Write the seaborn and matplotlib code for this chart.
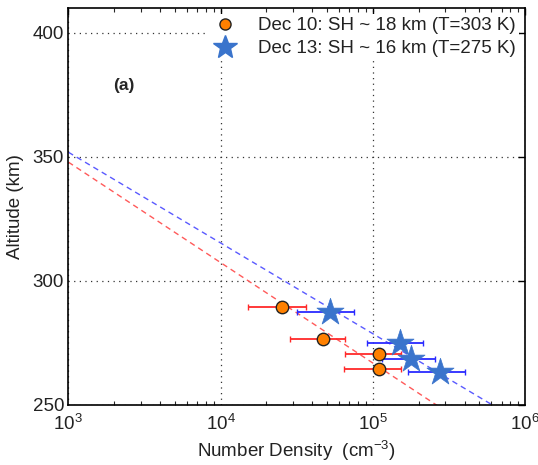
import numpy as np
import pandas as pd
import matplotlib
matplotlib.use("Agg")
import matplotlib.pyplot as plt
import seaborn as sns
from matplotlib.ticker import LogLocator, LogFormatterSciNotation, NullFormatter
from matplotlib.lines import Line2D

# Dec 10 measurements (orange circles)
dec10_density = [2.52e4, 4.74e4, 1.09e5, 1.09e5]
dec10_alt = [289.5, 276.6, 270.2, 264.5]
dec10_lo = [1.52e4, 2.86e4, 6.58e4, 6.48e4]
dec10_hi = [3.65e4, 6.60e4, 1.53e5, 1.53e5]

# Dec 13 measurements (blue stars)
dec13_density = [5.24e4, 1.51e5, 1.79e5, 2.77e5]
dec13_alt = [287.3, 275.0, 268.4, 263.3]
dec13_lo = [3.20e4, 9.20e4, 1.15e5, 1.69e5]
dec13_hi = [7.57e4, 2.13e5, 2.56e5, 4.04e5]

# Scale-height fits: altitude at n = 1e3 cm^-3 and scale height (km)
fit_n_ref = 1e3
dec10_fit_z0, dec10_H = 347.8, 17.6
dec13_fit_z0, dec13_H = 351.8, 15.9

legend_labels = ["Dec 10: SH ~ 18 km (T=303 K)", "Dec 13: SH ~ 16 km (T=275 K)"]

sns.set_theme(style="white")
plt.rcParams["font.family"] = ["Liberation Sans", "DejaVu Sans"]
plt.rcParams["mathtext.default"] = "regular"
plt.rcParams["xtick.direction"] = "in"
plt.rcParams["ytick.direction"] = "in"

fig = plt.figure(figsize=(5.38, 4.65), dpi=100)
ax = fig.add_axes([0.127, 0.130, 0.849, 0.853])
ax.set_xscale("log")

# fitted profiles
def fit_profile(z0, H):
    n = np.logspace(3, 6, 200)
    z = z0 - H * np.log(n / fit_n_ref)
    return pd.DataFrame({"n": n, "z": z})

f10 = fit_profile(dec10_fit_z0, dec10_H)
f13 = fit_profile(dec13_fit_z0, dec13_H)
sns.lineplot(data=f10, x="n", y="z", ax=ax, color="#ff5a5a", lw=1.0,
             sort=False, estimator=None)
sns.lineplot(data=f13, x="n", y="z", ax=ax, color="#5a5aff", lw=1.0,
             sort=False, estimator=None)
for ln in ax.lines:
    ln.set_dashes([4, 3])

# error bars
d10 = np.array(dec10_density)
d13 = np.array(dec13_density)
ax.errorbar(d10, dec10_alt,
            xerr=[d10 - np.array(dec10_lo), np.array(dec10_hi) - d10],
            fmt="none", ecolor="#ff2a2a", elinewidth=1.3, capsize=2.5, capthick=1.0, zorder=3)
ax.errorbar(d13, dec13_alt,
            xerr=[d13 - np.array(dec13_lo), np.array(dec13_hi) - d13],
            fmt="none", ecolor="#2a2aff", elinewidth=1.3, capsize=2.5, capthick=1.0, zorder=3)

# markers
df10 = pd.DataFrame({"n": dec10_density, "z": dec10_alt})
df13 = pd.DataFrame({"n": dec13_density, "z": dec13_alt})
sns.scatterplot(data=df10, x="n", y="z", ax=ax, marker="o", s=80,
                color="#ff8000", edgecolor="#222222", linewidth=1.0, zorder=4)
sns.scatterplot(data=df13, x="n", y="z", ax=ax, marker="*", s=420,
                color="#3a74cc", edgecolor="#3a74cc", linewidth=0.5, zorder=5)

ax.set_xlim(1e3, 1e6)
ax.set_ylim(250, 410)
ax.set_yticks([250, 300, 350, 400])
ax.xaxis.set_major_locator(LogLocator(base=10, numticks=10))
ax.xaxis.set_major_formatter(LogFormatterSciNotation())
ax.xaxis.set_minor_locator(LogLocator(base=10, subs=np.arange(2, 10), numticks=20))
ax.xaxis.set_minor_formatter(NullFormatter())

ax.grid(True, which="major", linestyle=(0, (1, 3.5)), color="#333333", lw=0.9)
ax.tick_params(axis="both", which="major", labelsize=13.5, length=5, width=1,
               top=True, right=True, colors="black", labelcolor="#222222")
ax.tick_params(axis="x", which="major", pad=7)
ax.tick_params(axis="y", which="major", pad=3)
ax.tick_params(axis="x", which="minor", length=3, width=0.8, top=True, bottom=True)
for s in ax.spines.values():
    s.set_color("black")
    s.set_linewidth(1.2)

ax.set_xlabel("Number Density  (cm$^{-3}$)", fontsize=13.5, labelpad=3,
              color="#222222")
ax.set_ylabel("Altitude (km)", fontsize=13.5, labelpad=6, color="#222222")

ax.text(0.098, 0.805, "(a)", transform=ax.transAxes, fontsize=12.5,
        fontweight="bold", ha="left", va="center")

handles = [
    Line2D([], [], marker="o", ls="none", markersize=8, markerfacecolor="#ff8000",
           markeredgecolor="#222222", markeredgewidth=1.0),
    Line2D([], [], marker="*", ls="none", markersize=18, markerfacecolor="#3a74cc",
           markeredgecolor="#3a74cc"),
]
leg = ax.legend(handles, legend_labels, loc="upper right", bbox_to_anchor=(1.0, 1.0),
                frameon=True, fontsize=13.5, handletextpad=1.0, labelspacing=0.3,
                borderpad=0.2, borderaxespad=0.3, handlelength=1.5)
leg.get_frame().set_facecolor("white")
leg.get_frame().set_edgecolor("none")
leg.get_frame().set_alpha(1.0)
for t in leg.get_texts():
    t.set_color("#222222")

fig.savefig("out.png", dpi=100)
